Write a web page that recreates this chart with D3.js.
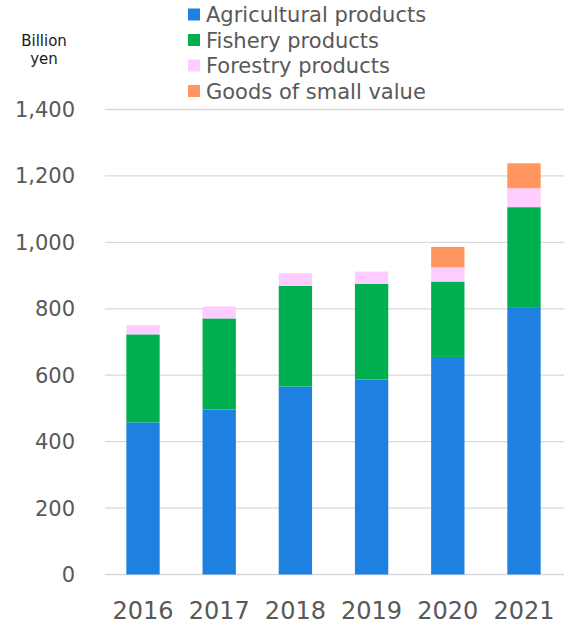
<!DOCTYPE html>
<html>
<head>
<meta charset="utf-8">
<script src="https://cdn.jsdelivr.net/npm/d3@7"></script>
<style>
  body { margin: 0; background: #fff; }
  svg { display: block; font-family: "DejaVu Sans", Verdana, sans-serif; }
</style>
</head>
<body>
<svg id="chart"></svg>
<script>
// Data (billion yen)
const years = ["2016", "2017", "2018", "2019", "2020", "2021"];
const agricultural = [458, 497, 566, 587, 655, 805];
const fishery = [265, 274, 303, 288, 227, 301];
const forestry = [28, 36, 38, 37, 43, 57];
const smallGoods = [0, 0, 0, 0, 61, 75];
const seriesNames = ["Agricultural products", "Fishery products", "Forestry products", "Goods of small value"];
const yTicks = [0, 200, 400, 600, 800, 1000, 1200, 1400];

const colors = ["#1E80E0", "#00B050", "#FFCCFF", "#FF9660"];

const width = 564, height = 624;
const svg = d3.select("#chart").attr("width", width).attr("height", height);

// build rows for the stack
const keys = ["agri", "fish", "forest", "goods"];
const rows = years.map((y, i) => ({
    year: y,
    agri: agricultural[i],
    fish: fishery[i],
    forest: forestry[i],
    goods: smallGoods[i],
}));

const x = d3.scaleBand().domain(years).range([105, 562]).paddingInner(0.5625).paddingOuter(0.28);
const y = d3.scaleLinear().domain([0, 1400]).range([574.5, 109.5]);

// gridlines
svg.append("g")
    .selectAll("line")
    .data(yTicks)
    .join("line")
    .attr("x1", 105)
    .attr("x2", 564)
    .attr("y1", (d) => y(d))
    .attr("y2", (d) => y(d))
    .attr("stroke", "#d9d9d9")
    .attr("stroke-width", 1.3);

// y tick labels
svg.append("g")
    .selectAll("text")
    .data(yTicks)
    .join("text")
    .attr("x", 75)
    .attr("y", (d) => y(d))
    .attr("dy", "0.36em")
    .attr("text-anchor", "end")
    .attr("font-size", 21)
    .attr("fill", "#595959")
    .text((d) => d3.format(",")(d));

// stacked bars
const stacked = d3.stack().keys(keys)(rows);
svg.append("g")
    .selectAll("g")
    .data(stacked)
    .join("g")
    .attr("fill", (d, i) => colors[i])
    .selectAll("rect")
    .data((d) => d.filter((s) => s[1] - s[0] > 0))
    .join("rect")
    .attr("x", (d) => x(d.data.year))
    .attr("width", x.bandwidth())
    .attr("y", (d) => y(d[1]))
    .attr("height", (d) => y(d[0]) - y(d[1]));

// x labels
svg.append("g")
    .selectAll("text")
    .data(years)
    .join("text")
    .attr("x", (d) => x(d) + x.bandwidth() / 2)
    .attr("y", 619)
    .attr("text-anchor", "middle")
    .attr("font-size", 24)
    .attr("fill", "#595959")
    .text((d) => d);

// unit label
const unit = svg.append("text")
    .attr("text-anchor", "middle")
    .attr("font-size", 15)
    .attr("fill", "#1a1a1a");
unit.append("tspan").attr("x", 44).attr("y", 46).text("Billion");
unit.append("tspan").attr("x", 44).attr("y", 64).text("yen");

// legend
const legend = svg.append("g")
    .selectAll("g")
    .data(seriesNames)
    .join("g")
    .attr("transform", (d, i) => `translate(188,${14.5 + i * 25.5})`);

legend.append("rect")
    .attr("x", 0)
    .attr("y", -6)
    .attr("width", 12)
    .attr("height", 12)
    .attr("fill", (d, i) => colors[i]);

legend.append("text")
    .attr("x", 18)
    .attr("dy", "0.36em")
    .attr("font-size", 21)
    .attr("fill", "#595959")
    .text((d) => d);
</script>
</body>
</html>
